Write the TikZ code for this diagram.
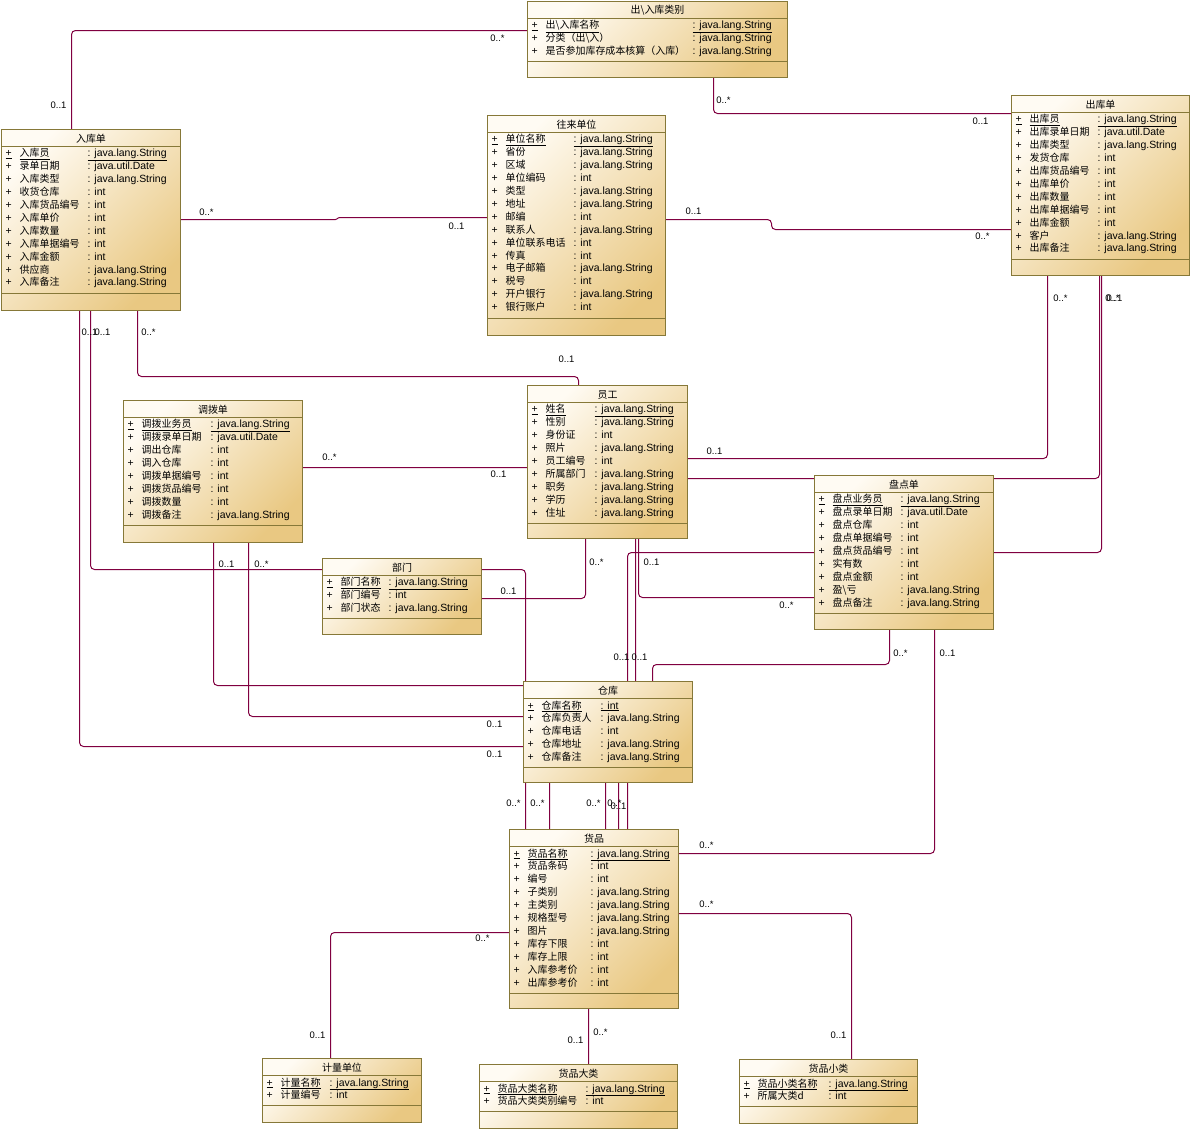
\documentclass[tikz,border=0pt]{standalone}
\usepackage{fontspec}
\setmainfont{Liberation Sans}
\newfontfamily\cjk{Noto Sans CJK SC}
\usetikzlibrary{backgrounds}

\definecolor{assoc}{RGB}{128,0,64}
\definecolor{clsedge}{RGB}{134,120,56}
\definecolor{clstop}{RGB}{255,251,243}
\definecolor{clsbot}{RGB}{233,200,130}

% class box: id, x, y, width, height, title, rows
\newcommand\clsbox[7]{%
  \node[cls, minimum width=#4bp, minimum height=#5bp] (#1) at (#2,#3) {};
  \node[ctitle] (#1-title) at ([yshift=-9bp]#1.north) {#6};
  \draw[csep] ([yshift=-17bp]#1.north west) -- ([yshift=-17bp]#1.north east);
  \draw[csep] ([yshift={-34bp-13bp*(#7-1)}]#1.north west) -- ([yshift={-34bp-13bp*(#7-1)}]#1.north east);
}
% key attribute: id, type column, name, type
\newcommand\keyrow[4]{%
  \node[vis] (#1-v0) at ([xshift=4bp,yshift=-25bp]#1.north west) {\underline{+}};
  \node[aname] (#1-n0) at ([xshift=18bp,yshift=-25bp]#1.north west) {\underline{#3}};
  \node[atype] (#1-y0) at ([xshift=#2bp,yshift=-25bp]#1.north west) {\underline{: #4}};
}
% attribute: id, row, type column, name, type
\newcommand\attrrow[5]{%
  \node[vis] (#1-v#2) at ([xshift=4bp,yshift={-25bp-12.9bp*#2}]#1.north west) {+};
  \node[aname] (#1-n#2) at ([xshift=18bp,yshift={-25bp-12.9bp*#2}]#1.north west) {#4};
  \node[atype] (#1-y#2) at ([xshift=#3bp,yshift={-25bp-12.9bp*#2}]#1.north west) {: #5};
}
\newcommand\bsl{\textbackslash{}}

\begin{document}
\begin{tikzpicture}[x=1bp,y=-1bp]

\tikzset{cls/.style = {draw=clsedge, line width=1bp, top color=clstop, bottom color=clsbot, shading angle=45, anchor=north west, inner sep=0pt, outer sep=0pt}}
\tikzset{csep/.style = {draw=clsedge, line width=1bp}}
\tikzset{ctitle/.style = {inner sep=0pt, font=\cjk\fontsize{10}{12}\selectfont}}
\tikzset{vis/.style = {anchor=west, inner sep=0pt, text height=7pt, text depth=2pt, font=\fontsize{10.5}{12}\selectfont}}
\tikzset{aname/.style = {vis, font=\cjk\fontsize{10}{12}\selectfont}}
\tikzset{atype/.style = {vis}}
\tikzset{edge/.style = {color=assoc, draw=assoc, line width=1bp, rounded corners=4bp}}
\tikzset{mult/.style = {inner sep=0pt, font=\fontsize{9.5}{11}\selectfont}}

\useasboundingbox (-0.5,-0.5) rectangle (1189.5,1128.5);

%classes
\clsbox{churu}{527}{1}{260}{76}{出\bsl{}入库类别}{3}
\keyrow{churu}{165}{出\bsl{}入库名称}{java.lang.String}
\attrrow{churu}{1}{165}{分类（出\bsl{}入）}{java.lang.String}
\attrrow{churu}{2}{165}{是否参加库存成本核算（入库）}{java.lang.String}

\clsbox{ruku}{1}{129}{179}{181}{入库单}{11}
\keyrow{ruku}{86}{入库员}{java.lang.String}
\foreach \nm/\ty [count=\i] in {录单日期/java.util.Date, 入库类型/java.lang.String, 收货仓库/int, 入库货品编号/int, 入库单价/int, 入库数量/int, 入库单据编号/int, 入库金额/int, 供应商/java.lang.String, 入库备注/java.lang.String}
  \attrrow{ruku}{\i}{86}{\nm}{\ty};

\clsbox{wanglai}{487}{115}{178}{220}{往来单位}{14}
\keyrow{wanglai}{86}{单位名称}{java.lang.String}
\foreach \nm/\ty [count=\i] in {省份/java.lang.String, 区域/java.lang.String, 单位编码/int, 类型/java.lang.String, 地址/java.lang.String, 邮编/int, 联系人/java.lang.String, 单位联系电话/int, 传真/int, 电子邮箱/java.lang.String, 税号/int, 开户银行/java.lang.String, 银行账户/int}
  \attrrow{wanglai}{\i}{86}{\nm}{\ty};

\clsbox{chuku}{1011}{95}{178}{180}{出库单}{11}
\keyrow{chuku}{86}{出库员}{java.lang.String}
\foreach \nm/\ty [count=\i] in {出库录单日期/java.util.Date, 出库类型/java.lang.String, 发货仓库/int, 出库货品编号/int, 出库单价/int, 出库数量/int, 出库单据编号/int, 出库金额/int, 客户/java.lang.String, 出库备注/java.lang.String}
  \attrrow{chuku}{\i}{86}{\nm}{\ty};

\clsbox{diaobo}{123}{400}{179}{142}{调拨单}{8}
\keyrow{diaobo}{87}{调拨业务员}{java.lang.String}
\foreach \nm/\ty [count=\i] in {调拨录单日期/java.util.Date, 调出仓库/int, 调入仓库/int, 调拨单据编号/int, 调拨货品编号/int, 调拨数量/int, 调拨备注/java.lang.String}
  \attrrow{diaobo}{\i}{87}{\nm}{\ty};

\clsbox{yuangong}{527}{385}{160}{153}{员工}{9}
\keyrow{yuangong}{67}{姓名}{java.lang.String}
\foreach \nm/\ty [count=\i] in {性别/java.lang.String, 身份证/int, 照片/java.lang.String, 员工编号/int, 所属部门/java.lang.String, 职务/java.lang.String, 学历/java.lang.String, 住址/java.lang.String}
  \attrrow{yuangong}{\i}{67}{\nm}{\ty};

\clsbox{pandian}{814}{475}{179}{154}{盘点单}{9}
\keyrow{pandian}{86}{盘点业务员}{java.lang.String}
\foreach \nm/\ty [count=\i] in {盘点录单日期/java.util.Date, 盘点仓库/int, 盘点单据编号/int, 盘点货品编号/int, 实有数/int, 盘点金额/int, 盈\bsl{}亏/java.lang.String, 盘点备注/java.lang.String}
  \attrrow{pandian}{\i}{86}{\nm}{\ty};

\clsbox{bumen}{322}{558}{159}{76}{部门}{3}
\keyrow{bumen}{66}{部门名称}{java.lang.String}
\attrrow{bumen}{1}{66}{部门编号}{int}
\attrrow{bumen}{2}{66}{部门状态}{java.lang.String}

\clsbox{cangku}{523}{681}{169}{101}{仓库}{5}
\keyrow{cangku}{77}{仓库名称}{int}
\foreach \nm/\ty [count=\i] in {仓库负责人/java.lang.String, 仓库电话/int, 仓库地址/java.lang.String, 仓库备注/java.lang.String}
  \attrrow{cangku}{\i}{77}{\nm}{\ty};

\clsbox{huopin}{509}{829}{169}{179}{货品}{11}
\keyrow{huopin}{81}{货品名称}{java.lang.String}
\foreach \nm/\ty [count=\i] in {货品条码/int, 编号/int, 子类别/java.lang.String, 主类别/java.lang.String, 规格型号/java.lang.String, 图片/java.lang.String, 库存下限/int, 库存上限/int, 入库参考价/int, 出库参考价/int}
  \attrrow{huopin}{\i}{81}{\nm}{\ty};

\clsbox{jiliang}{262}{1058}{159}{64}{计量单位}{2}
\keyrow{jiliang}{67}{计量名称}{java.lang.String}
\attrrow{jiliang}{1}{67}{计量编号}{int}

\clsbox{dalei}{479}{1064}{198}{64}{货品大类}{2}
\keyrow{dalei}{106}{货品大类名称}{java.lang.String}
\attrrow{dalei}{1}{106}{货品大类类别编号}{int}

\clsbox{xiaolei}{739}{1059}{178}{64}{货品小类}{2}
\keyrow{xiaolei}{89}{货品小类名称}{java.lang.String}
\attrrow{xiaolei}{1}{89}{所属大类d}{int}

%associations
\begin{scope}[on background layer]
\draw[edge] ([xshift=70bp]ruku.north west) |- ([yshift=-29bp]churu.north west);
\draw[edge] ([xshift=186bp]churu.south west) |- ([yshift=-18bp]chuku.north west);
\draw[edge, rounded corners=1bp] ([yshift=-90bp]ruku.north east) -- (336,219) -- (338,217) -- ([yshift=-102bp]wanglai.north west);
\draw[edge] ([yshift=-104bp]wanglai.north east) -- (771,219) |- ([yshift=-134bp]chuku.north west);
\draw[edge] ([xshift=136bp]ruku.south west) |- (578,376) -- ([xshift=51bp]yuangong.north west);
\draw[edge] ([xshift=89bp]ruku.south west) |- (525,569) -- ([xshift=16bp]huopin.north west);
\draw[edge] ([xshift=78bp]ruku.south west) |- ([yshift=-65bp]cangku.north west);
\draw[edge] ([yshift=-67bp]diaobo.north east) -- ([yshift=-82bp]yuangong.north west);
\draw[edge] ([xshift=90bp]diaobo.south west) |- ([yshift=-4bp]cangku.north west);
\draw[edge] ([xshift=125bp]diaobo.south west) |- ([yshift=-35bp]cangku.north west);
\draw[edge] ([yshift=-40bp]bumen.north east) -| ([xshift=58bp]yuangong.south west);
\draw[edge] ([yshift=-73bp]yuangong.north east) -| ([xshift=36bp]chuku.south west);
\draw[edge] ([yshift=-93bp]yuangong.north east) -| ([xshift=88bp]chuku.south west);
\draw[edge] ([xshift=90bp]chuku.south west) |- (627,552) -- ([xshift=118bp]huopin.north west);
\draw[edge] ([xshift=108bp]yuangong.south west) -- ([xshift=112bp]cangku.north west);
\draw[edge] ([xshift=111bp]yuangong.south west) |- ([yshift=-122bp]pandian.north west);
\draw[edge] ([xshift=75bp]pandian.south west) |- (652,664) -- ([xshift=129bp]cangku.north west);
\draw[edge] ([xshift=120bp]pandian.south west) |- ([yshift=-24bp]huopin.north east);
\draw[edge] ([xshift=26bp]cangku.south west) -- ([xshift=40bp]huopin.north west);
\draw[edge] ([xshift=82bp]cangku.south west) -- ([xshift=96bp]huopin.north west);
\draw[edge] ([xshift=95bp]cangku.south west) -- ([xshift=109bp]huopin.north west);
\draw[edge] ([yshift=-84bp]huopin.north east) -| ([xshift=112bp]xiaolei.north west);
\draw[edge] ([yshift=-103bp]huopin.north west) -| ([xshift=68bp]jiliang.north west);
\draw[edge] ([xshift=79bp]huopin.south west) -- ([xshift=109bp]dalei.north west);
\end{scope}

%multiplicities
\foreach \x/\y/\m [count=\k] in {58/105/0..1, 497/38/0..*, 723/100/0..*, 980/121/0..1,
  206/212/0..*, 456/226/0..1, 693/211/0..1, 982/236/0..*,
  89/332/0..1, 102/332/0..1, 148/332/0..*, 566/359/0..1,
  329/457/0..*, 498/474/0..1, 714/451/0..1, 1060/298/0..*, 1112/298/0..*, 1114/298/0..1,
  226/564/0..1, 261/564/0..*, 508/591/0..1, 596/562/0..*, 651/562/0..1, 786/605/0..*,
  621/657/0..1, 639/657/0..1, 900/653/0..*, 947/653/0..1, 494/724/0..1, 494/754/0..1,
  513/803/0..*, 537/803/0..*, 593/803/0..*, 614/803/0..*, 618/806/0..1,
  706/845/0..*, 706/904/0..*, 482/938/0..*, 317/1035/0..1, 575/1040/0..1, 600/1032/0..*, 838/1035/0..1}
  \node[mult] (m\k) at (\x,\y) {\m};

\end{tikzpicture}
\end{document}
